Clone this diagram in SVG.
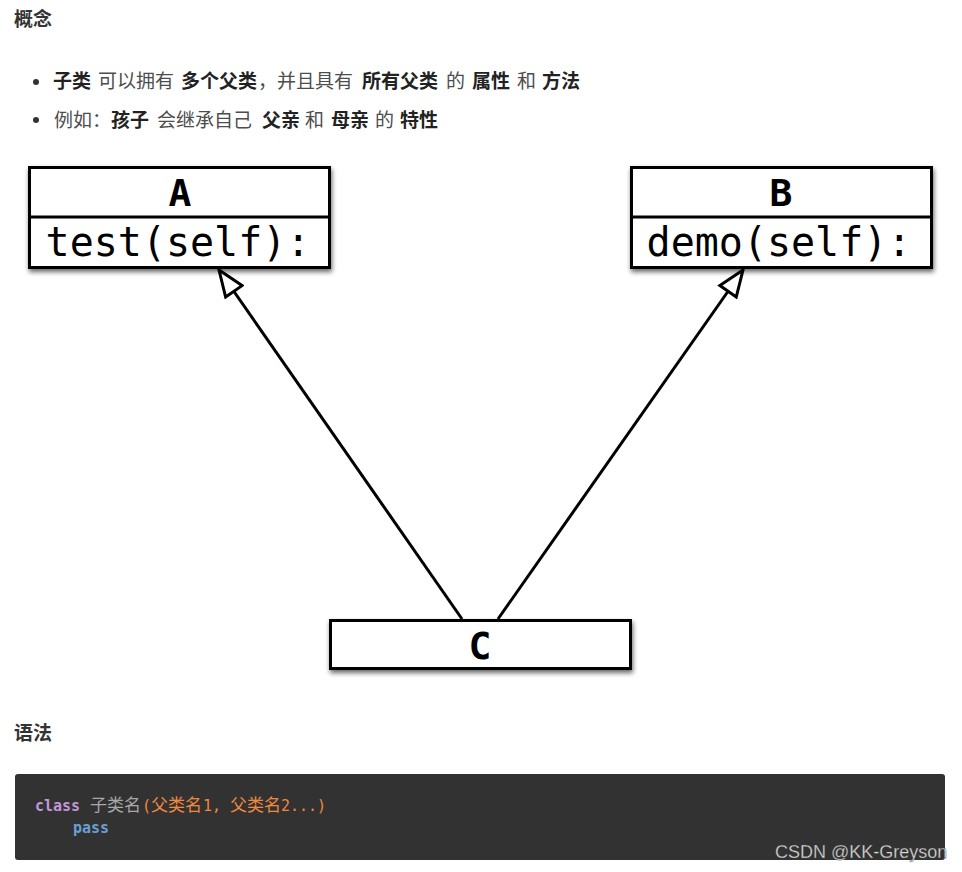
<svg xmlns="http://www.w3.org/2000/svg" width="962" height="872" viewBox="0 0 962 872">
<defs>
<filter id="sh" x="-10%" y="-20%" width="120%" height="150%">
<feGaussianBlur in="SourceAlpha" stdDeviation="2.5"/>
<feOffset dx="1" dy="3" result="b"/>
<feComponentTransfer><feFuncA type="linear" slope="0.6"/></feComponentTransfer>
<feMerge><feMergeNode/><feMergeNode in="SourceGraphic"/></feMerge>
</filter>
<marker id="tri" viewBox="0 0 30 24" refX="28" refY="12" markerWidth="30" markerHeight="24" markerUnits="userSpaceOnUse" orient="auto">
<path d="M28,12 L2,2 L2,22 Z" fill="#fff" stroke="#000" stroke-width="3" stroke-linejoin="miter"/>
</marker>
</defs>
<style>
.h{font-family:"Noto Sans CJK SC","Microsoft YaHei",sans-serif;font-weight:bold;font-size:19px;fill:#333}
.t{font-family:"Noto Sans CJK SC",sans-serif;font-size:19px;fill:#4d4d4d}
.b{font-weight:bold;fill:#222}
.box{fill:#fff;stroke:#000;stroke-width:3}
.ttl{font-family:"DejaVu Sans Mono",monospace;font-weight:bold;font-size:38px;fill:#000;text-anchor:middle}
.mth{font-family:"DejaVu Sans Mono",monospace;font-size:40px;fill:#000;text-anchor:middle}
.ln{stroke:#000;stroke-width:3;fill:none}
.code{font-family:"DejaVu Sans Mono","Noto Sans CJK SC",monospace;font-size:15px}
.cj{font-family:"Noto Sans CJK SC",sans-serif;font-size:17px}
</style>
<rect width="962" height="872" fill="#fff"/>
<text class="h" x="14" y="26">概念</text>
<circle cx="36" cy="82" r="3" fill="#333"/>
<circle cx="36" cy="120" r="3" fill="#333"/>
<text class="t" y="88"><tspan class="b" x="53">子类</tspan><tspan x="98">可以拥有</tspan><tspan class="b" x="181">多个父类</tspan><tspan x="258">，</tspan><tspan x="277">并且具有</tspan><tspan class="b" x="362">所有父类</tspan><tspan x="446">的</tspan><tspan class="b" x="472">属性</tspan><tspan x="517">和</tspan><tspan class="b" x="542">方法</tspan></text>
<text class="t" y="127"><tspan x="54">例如：</tspan><tspan class="b" x="111">孩子</tspan><tspan x="157">会继承自己</tspan><tspan class="b" x="262">父亲</tspan><tspan x="305">和</tspan><tspan class="b" x="331">母亲</tspan><tspan x="375">的</tspan><tspan class="b" x="400">特性</tspan></text>

<g id="connectors">
<line class="ln" x1="462" y1="619" x2="219" y2="270" marker-end="url(#tri)"/>
<line class="ln" x1="498" y1="619" x2="743" y2="270" marker-end="url(#tri)"/>
</g>

<g id="A">
<rect class="box" x="29.5" y="167.5" width="300" height="100" filter="url(#sh)"/>
<line class="ln" x1="29.5" y1="217" x2="329.5" y2="217"/>
<text class="ttl" x="180" y="206">A</text>
<text class="mth" x="178" y="256">test(self):</text>
</g>
<g id="B">
<rect class="box" x="631.5" y="167.5" width="300" height="100" filter="url(#sh)"/>
<line class="ln" x1="631.5" y1="217" x2="931.5" y2="217"/>
<text class="ttl" x="781" y="206">B</text>
<text class="mth" x="779" y="256">demo(self):</text>
</g>
<g id="C">
<rect class="box" x="330.5" y="620.5" width="300" height="48" filter="url(#sh)"/>
<text class="ttl" x="480" y="659">C</text>
</g>

<text class="h" x="14" y="740">语法</text>
<rect x="15" y="774" width="930" height="86" rx="3" fill="#323232"/>
<text class="code" y="811"><tspan x="35" fill="#c397d8" font-weight="bold">class</tspan><tspan class="cj" x="90" fill="#a8a8a8">子类名</tspan><tspan x="142" fill="#f0883e">(</tspan><tspan class="cj" x="151" fill="#f0883e">父类名</tspan><tspan x="203" fill="#f0883e">1, </tspan><tspan class="cj" x="230" fill="#f0883e">父类名</tspan><tspan x="281" fill="#f0883e">2...)</tspan></text>
<text class="code" x="73" y="833" fill="#6a9fd4" font-weight="bold">pass</text>
<text x="775" y="858" font-family="Liberation Sans,Arial,sans-serif" font-size="18" fill="#d8d8d8" stroke="#444" stroke-width="0.3">CSDN @KK-Greyson</text>
</svg>
